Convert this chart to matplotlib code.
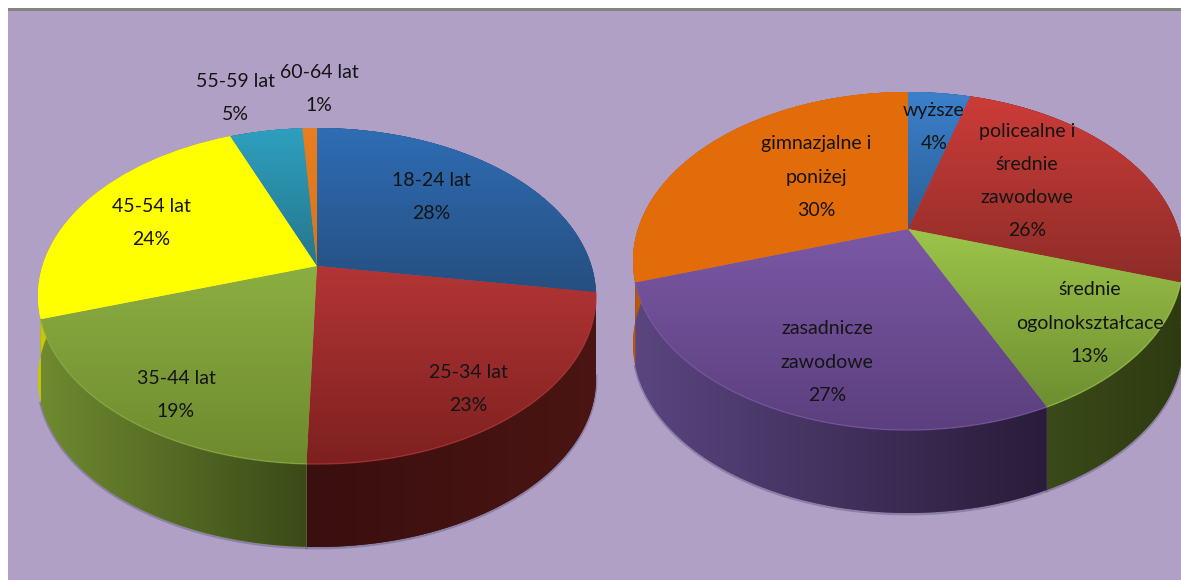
import numpy as np
import matplotlib
matplotlib.use("Agg")
import matplotlib.pyplot as plt
from matplotlib.colors import to_rgb
from matplotlib.patches import Polygon, Rectangle
from matplotlib.transforms import Transform

plt.rcParams['font.family'] = ['Lato', 'DejaVu Sans']

# lewy wykres - wiek
wiek = ["18-24 lat", "25-34 lat", "35-44 lat", "45-54 lat", "55-59 lat", "60-64 lat"]
wiek_wart = [27.5, 23.0, 19.5, 24.0, 5.0, 1.0]
wiek_proc = [28, 23, 19, 24, 5, 1]

# prawy wykres - wyksztalcenie
wyksz = ["wyższe", "policealne i\nśrednie\nzawodowe", "średnie\nogolnokształcace",
         "zasadnicze\nzawodowe", "gimnazjalne i\nponiżej"]
wyksz_wart = [4.4, 25.6, 13.0, 27.0, 30.0]
wyksz_proc = [4, 26, 13, 27, 30]

TLO = "#B0A0C6"
GLEB = 83

# kolory: gora (gorny, dolny), bok (lewy, prawy)
wiek_gora = [("#2F6DB5", "#254F80"), ("#B33535", "#7E2020"), ("#8BAE42", "#6E8A2E"),
             ("#FFFF00", "#FFFF00"), ("#2E9FBF", "#26768C"), ("#E87F20", "#D8741A")]
wiek_bok = [("#1F3E66", "#1F3E66"), ("#3A0F0F", "#4A1512"), ("#6F8A30", "#3A4A18"),
            ("#C8C800", "#D0D000"), ("#206070", "#206070"), ("#A05A10", "#A05A10")]
wyksz_gora = [("#3C80CC", "#2A5F95"), ("#CC3C38", "#8E2C28"), ("#9CC44A", "#6E8E30"),
              ("#7B58A5", "#5B3F7E"), ("#E36C0A", "#E36C0A")]
wyksz_bok = [("#25507F", "#25507F"), ("#4A1512", "#6A1E1A"), ("#3A4A1A", "#2F3A10"),
             ("#5A4580", "#2A1C3A"), ("#B85808", "#B85808")]


class Rzut(Transform):
    # kolo jednostkowe -> elipsa z przesunietym srodkiem (perspektywa)
    input_dims = 2
    output_dims = 2

    def __init__(self, cx, cy, rx, gora, dol):
        super().__init__()
        self.k = (dol - gora) / (dol + gora)
        self.b = gora * (1 + self.k)
        self.a = rx * np.sqrt(1 - self.k ** 2)
        self.cx = cx
        self.cy = cy

    def transform_non_affine(self, xy):
        xy = np.asarray(xy, dtype=float)
        m = 1 + self.k * xy[:, 1]
        return np.column_stack([self.cx + self.a * xy[:, 0] / m, self.cy - self.b * xy[:, 1] / m])


def gradient(ax, patch, k1, k2, ext, poziomo, z):
    n = 128
    t = np.linspace(0, 1, n)[:, None]
    rgb = (1 - t) * np.array(to_rgb(k1)) + t * np.array(to_rgb(k2))
    rgb = rgb[None, :, :] if poziomo else rgb[:, None, :]
    im = ax.imshow(rgb, extent=(ext[0], ext[1], ext[3], ext[2]), origin="upper",
                   aspect="auto", interpolation="bilinear", zorder=z)
    im.set_clip_path(patch)


def tort(ax, wart, gora, bok, cx, cy, rx, g, d):
    tr = Rzut(cx, cy, rx, g, d)
    wedges, _ = ax.pie(wart, startangle=90, counterclock=False,
                       colors=[k[0] for k in gora], wedgeprops={"linewidth": 0})
    kat = 90 - np.cumsum([0] + list(wart)) * 3.6
    for i, w in enumerate(wedges):
        w.set_transform(tr + ax.transData)
        w.set_zorder(5)
        # bok plasterka
        t = np.radians(np.linspace(kat[i], kat[i + 1], 120))
        p = tr.transform_non_affine(np.column_stack([np.cos(t), np.sin(t)]))
        d2 = p + [0, GLEB]
        bk = Polygon(np.vstack([p, d2[::-1]]), closed=True, fc=bok[i][0], lw=0, zorder=2)
        ax.add_patch(bk)
        gradient(ax, bk, bok[i][0], bok[i][1], (p[:, 0].min(), p[:, 0].max(), 0, 580), True, 3)
        # gradient gory w zakresie y samego plasterka
        y0 = min(p[:, 1].min(), cy)
        y1 = max(p[:, 1].max(), cy)
        gradient(ax, w, gora[i][0], gora[i][1], (cx - rx, cx + rx, y0, y1), False, 6)
        # jasny rant i cien pod spodem
        if p[:, 1].mean() > cy:
            ax.plot(p[:, 0], p[:, 1], color=gora[i][0], lw=1, alpha=0.7, zorder=7)
            ax.plot(d2[:, 0], d2[:, 1] + 1, color="#6A5F85", lw=2, alpha=0.5, zorder=1.5)
    ax.set_aspect("auto")


fig = plt.figure(figsize=(11.81, 5.80), dpi=100, facecolor="white")
ax = fig.add_axes([0, 0, 1, 1])
ax.add_patch(Rectangle((8, 8), 1173, 572, fc=TLO, ec="none", zorder=0))
ax.add_patch(Rectangle((8, 8), 1173, 2.5, fc="#858580", ec="none", zorder=1))

tort(ax, wiek_wart, wiek_gora, wiek_bok, 317, 266, 279, 138, 198)
tort(ax, wyksz_wart, wyksz_gora, wyksz_bok, 908, 229, 275, 137, 201)

ax.set_xlim(0, 1181)
ax.set_ylim(580, 0)
ax.set_frame_on(False)
ax.set_xticks([])
ax.set_yticks([])

poz_wiek = [(431, 197), (468, 389), (176, 395), (151, 223), (235, 98), (319, 89)]
poz_wyksz = [(934, 127), (1027, 181), (1090, 323), (827, 362), (816, 177)]
for nazwy, proc, poz in [(wiek, wiek_proc, poz_wiek), (wyksz, wyksz_proc, poz_wyksz)]:
    for n, pr, (x, y) in zip(nazwy, proc, poz):
        ax.text(x, y, f"{n}\n{pr}%", ha="center", va="center", fontsize=14,
                linespacing=2.15, color="#141414", zorder=10)

fig.savefig("out.png", dpi=100, facecolor="white")
